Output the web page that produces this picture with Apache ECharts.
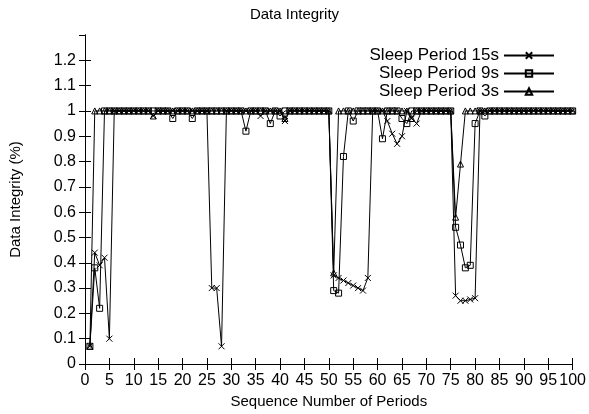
<!DOCTYPE html>
<html>
<head>
<meta charset="UTF-8">
<title>Data Integrity</title>
<script src="https://cdn.jsdelivr.net/npm/echarts@6/dist/echarts.min.js"></script>
<style>
    html, body { margin: 0; padding: 0; background: #fff; }
    #chart { width: 589px; height: 414px; }
</style>
</head>
<body>
<div id="chart"></div>
<script>
// sequence numbers 1..100
const periods = [
    1, 2, 3, 4, 5, 6, 7, 8, 9, 10, 11, 12, 13, 14, 15, 16, 17, 18, 19, 20,
    21, 22, 23, 24, 25, 26, 27, 28, 29, 30, 31, 32, 33, 34, 35, 36, 37, 38, 39, 40,
    41, 42, 43, 44, 45, 46, 47, 48, 49, 50, 51, 52, 53, 54, 55, 56, 57, 58, 59, 60,
    61, 62, 63, 64, 65, 66, 67, 68, 69, 70, 71, 72, 73, 74, 75, 76, 77, 78, 79, 80,
    81, 82, 83, 84, 85, 86, 87, 88, 89, 90, 91, 92, 93, 94, 95, 96, 97, 98, 99, 100
];

const sleep15 = [
    0.07, 0.44, 0.39, 0.42, 0.10, 1, 1, 1, 1, 1, 1, 1, 1, 0.98, 1, 1, 1, 1, 1, 1,
    1, 1, 1, 1, 1, 0.30, 0.30, 0.07, 1, 1, 1, 1, 1, 1, 1, 0.98, 1, 1, 1, 1,
    0.96, 1, 1, 1, 1, 1, 1, 1, 1, 1, 0.35, 0.34, 0.33, 0.32, 0.31, 0.30, 0.29, 0.34, 1, 1,
    1, 0.96, 0.91, 0.87, 0.90, 1, 0.97, 0.95, 1, 1, 1, 1, 1, 1, 1, 0.27, 0.25, 0.25, 0.255, 0.26,
    1, 1, 1, 1, 1, 1, 1, 1, 1, 1, 1, 1, 1, 1, 1, 1, 1, 1, 1, 1
];

const sleep9 = [
    0.07, 0.38, 0.22, 1, 1, 1, 1, 1, 1, 1, 1, 1, 1, 1, 1, 1, 1, 0.97, 1, 1,
    1, 0.97, 1, 1, 1, 1, 1, 1, 1, 1, 1, 1, 0.92, 1, 1, 1, 1, 0.95, 1, 0.98,
    1, 1, 1, 1, 1, 1, 1, 1, 1, 1, 0.29, 0.28, 0.82, 1, 0.96, 1, 1, 1, 1, 1,
    0.89, 1, 1, 1, 0.97, 0.95, 1, 1, 1, 1, 1, 1, 1, 1, 1, 0.54, 0.47, 0.38, 0.39, 0.95,
    1, 0.98, 1, 1, 1, 1, 1, 1, 1, 1, 1, 1, 1, 1, 1, 1, 1, 1, 1, 1
];

const sleep3 = [
    0.07, 1, 1, 1, 1, 1, 1, 1, 1, 1, 1, 1, 1, 0.98, 1, 1, 1, 1, 1, 1,
    1, 1, 1, 1, 1, 1, 1, 1, 1, 1, 1, 1, 1, 1, 1, 1, 1, 1, 1, 1,
    0.97, 1, 1, 1, 1, 1, 1, 1, 1, 1, 0.36, 1, 1, 1, 1, 1, 1, 1, 1, 1,
    1, 1, 1, 1, 1, 1, 0.97, 1, 1, 1, 1, 1, 1, 1, 1, 0.58, 0.79, 1, 1, 1,
    1, 1, 1, 1, 1, 1, 1, 1, 1, 1, 1, 1, 1, 1, 1, 1, 1, 1, 1, 1
];

const seriesNames = ['Sleep Period 15s', 'Sleep Period 9s', 'Sleep Period 3s'];

const font = 'Liberation Sans';
const crossSymbol = 'path://M0,0L10,10M10,0L0,10';

function pairs(values) {
    return periods.map((p, i) => [p, values[i]]);
}

function makeSeries(name, values, symbol, size) {
    return {
        name: name,
        type: 'line',
        data: pairs(values),
        symbol: symbol,
        symbolSize: size,
        showAllSymbol: true,
        animation: false,
        lineStyle: { color: '#000', width: 1 },
        itemStyle: {
            color: 'rgba(0,0,0,0)',
            borderColor: '#000',
            borderWidth: 1
        },
        emphasis: { disabled: true }
    };
}

const chart = echarts.init(document.getElementById('chart'));

const tickStyle = { show: true, inside: true, length: 6, lineStyle: { color: '#000', width: 1 } };
const lineStyle = { show: true, lineStyle: { color: '#000', width: 1 } };

chart.setOption({
    backgroundColor: '#fff',
    animation: false,
    textStyle: { fontFamily: font, color: '#000' },
    title: {
        text: 'Data Integrity',
        left: 'center',
        top: 2,
        textStyle: { fontFamily: font, fontSize: 15, fontWeight: 'normal', color: '#000' }
    },
    legend: {
        data: seriesNames,
        orient: 'vertical',
        align: 'right',
        right: 29,
        top: 42,
        itemWidth: 50,
        itemHeight: 8,
        itemGap: 1,
        textStyle: { fontFamily: font, fontSize: 17, lineHeight: 16, color: '#000' }
    },
    grid: { left: 83, right: 16, top: 35, bottom: 50 },
    xAxis: [
        {
            type: 'value',
            min: 0,
            max: 100,
            interval: 5,
            name: 'Sequence Number of Periods',
            nameLocation: 'middle',
            nameGap: 27,
            nameTextStyle: { fontFamily: font, fontSize: 15, color: '#000' },
            axisLine: lineStyle,
            axisTick: tickStyle,
            axisLabel: { fontFamily: font, fontSize: 16, color: '#000', margin: 9 },
            splitLine: { show: false }
        },
        {
            type: 'value',
            position: 'top',
            min: 0,
            max: 100,
            interval: 5,
            axisLine: lineStyle,
            axisTick: tickStyle,
            axisLabel: { show: false },
            splitLine: { show: false }
        }
    ],
    yAxis: [
        {
            type: 'value',
            min: 0,
            max: 1.3,
            interval: 0.1,
            name: 'Data Integrity (%)',
            nameLocation: 'middle',
            nameGap: 62,
            nameTextStyle: { fontFamily: font, fontSize: 15, color: '#000' },
            axisLine: lineStyle,
            axisTick: tickStyle,
            axisLabel: {
                fontFamily: font,
                fontSize: 16,
                color: '#000',
                margin: 9,
                showMaxLabel: false,
                formatter: v => String(Math.round(v * 10) / 10)
            },
            splitLine: { show: false }
        },
        {
            type: 'value',
            position: 'right',
            min: 0,
            max: 1.3,
            interval: 0.1,
            axisLine: lineStyle,
            axisTick: tickStyle,
            axisLabel: { show: false },
            splitLine: { show: false }
        }
    ],
    series: [
        makeSeries(seriesNames[0], sleep15, crossSymbol, 6),
        makeSeries(seriesNames[1], sleep9, 'rect', 6),
        makeSeries(seriesNames[2], sleep3, 'triangle', 6)
    ]
});
</script>
</body>
</html>
